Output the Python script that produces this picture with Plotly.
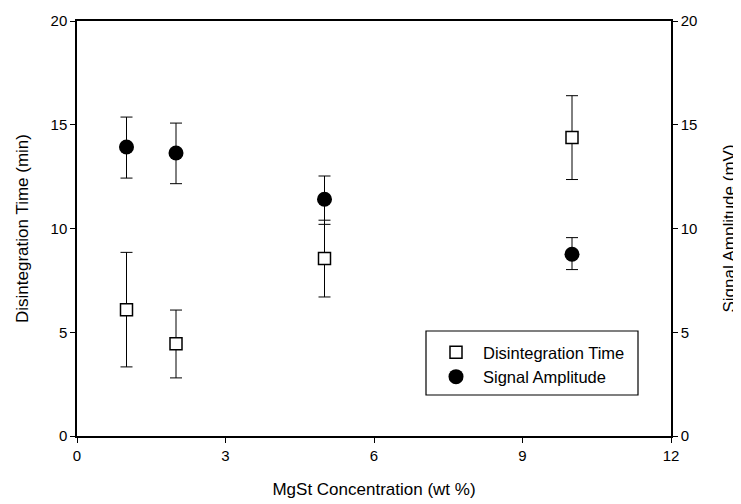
import plotly.graph_objects as go

conc = [1, 2, 5, 10]
disint_time = [6.09, 4.45, 8.55, 14.39]
disint_err_plus = [2.76, 1.62, 1.85, 2.01]
disint_err_minus = [2.76, 1.65, 1.85, 2.03]
signal_amp = [13.93, 13.64, 11.41, 8.76]
signal_err_plus = [1.44, 1.44, 1.12, 0.80]
signal_err_minus = [1.50, 1.48, 1.21, 0.74]

x_ticks = [0, 3, 6, 9, 12]
y_ticks = [0, 5, 10, 15, 20]

FONT = "Arial, Liberation Sans, sans-serif"

fig = go.Figure()
fig.add_trace(go.Scatter(
    x=conc, y=disint_time, mode="markers", name="Disintegration Time",
    marker=dict(symbol="square", size=12, color="white", line=dict(color="black", width=1.5)),
    error_y=dict(type="data", symmetric=False, array=disint_err_plus, arrayminus=disint_err_minus,
                 color="black", thickness=1, width=6),
    yaxis="y",
))
fig.add_trace(go.Scatter(
    x=conc, y=signal_amp, mode="markers", name="Signal Amplitude",
    marker=dict(symbol="circle", size=15, color="black", line=dict(color="black", width=0)),
    error_y=dict(type="data", symmetric=False, array=signal_err_plus, arrayminus=signal_err_minus,
                 color="black", thickness=1, width=6),
    yaxis="y2",
))

axis_common = dict(showline=True, linecolor="black", linewidth=1.5, ticks="outside",
                   ticklen=5, tickcolor="black", tickwidth=1, showgrid=False, zeroline=False,
                   automargin=False,
                   tickfont=dict(family=FONT, size=15, color="black"))

# page offset of the plot div (default body margin)
OFF = 8
W, H = 741 - OFF, 504 - OFF
L, R, T, B = 77 - OFF, 70, 21 - OFF, 68
pw, ph = W - L - R, H - T - B


def px_x(page_x):
    return (page_x - OFF - L) / pw


def px_y(page_y):
    return (H - B - (page_y - OFF)) / ph


fig.update_layout(
    width=W, height=H,
    margin=dict(l=L, r=R, t=T, b=B),
    paper_bgcolor="white", plot_bgcolor="white",
    font=dict(family=FONT, color="black"),
    xaxis=dict(range=[0, 12], tickvals=x_ticks, mirror=True,
               title=dict(text="MgSt Concentration (wt %)", font=dict(family=FONT, size=17), standoff=20),
               **axis_common),
    yaxis=dict(range=[0, 20], tickvals=y_ticks,
               title=dict(text="Disintegration Time (min)", font=dict(family=FONT, size=17), standoff=18),
               **axis_common),
    yaxis2=dict(range=[0, 20], tickvals=y_ticks, overlaying="y", side="right",
                title=dict(text="Signal Amplitude (mV)", font=dict(family=FONT, size=17), standoff=27),
                **axis_common),
    legend=dict(x=px_x(429), y=px_y(335), xanchor="left", yanchor="top",
                borderwidth=0, bgcolor="rgba(0,0,0,0)",
                font=dict(family=FONT, size=16.5), itemwidth=44,
                tracegroupgap=0),
    showlegend=True,
    shapes=[dict(type="rect", xref="paper", yref="paper",
                 x0=px_x(426), x1=px_x(638),
                 y0=px_y(395), y1=px_y(331),
                 line=dict(color="black", width=1.2), fillcolor="white", layer="below")],
)

fig.write_html("out.html")
